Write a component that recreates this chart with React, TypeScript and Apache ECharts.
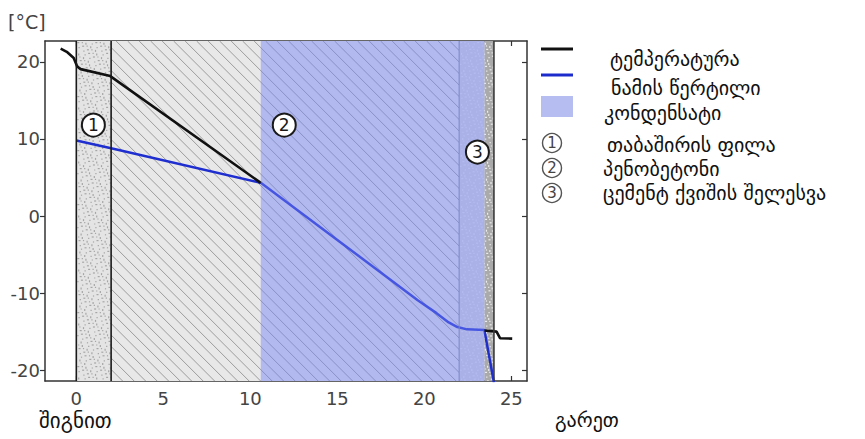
import React, { useEffect, useRef } from 'react';
import * as echarts from 'echarts';

const xTicks = [0, 5, 10, 15, 20, 25];
const yTicks = [-20, -10, 0, 10, 20];
const xMin = -1.8;
const xMax = 25.9;
const yMin = -21.4;
const yMax = 22.7;

// wall layers [from, to] in cm
const layerGypsum = [0, 2];
const layerFoam = [2, 22];
const layerPlaster = [22, 24];
const condensateZone = [10.6, 23.45];

// temperature (inside part + outside part)
const tempX = [-0.9, -0.55, -0.15, 0.05, 0.25, 1.95, 10.6];
const tempY = [21.7, 21.3, 20.5, 19.4, 19.05, 18.15, 4.3];
const tempOutX = [23.45, 24.15, 24.35, 25.05];
const tempOutY = [-14.85, -15.0, -15.85, -15.9];

// dew point
const dewX = [0, 2, 10.6, 15, 19.6, 20.7, 21.4, 21.9, 22.45, 23.45, 24.0];
const dewY = [9.8, 8.8, 4.3, -3.1, -10.9, -12.6, -13.8, -14.4, -14.7, -14.8, -21.6];

// layer markers inside the plot
const markerLabels = ['1', '2', '3'];
const markerX = [0.98, 11.95, 23.05];
const markerY = [11.8, 11.8, 8.3];

const legendNames = [
  'ტემპერატურა',
  'ნამის წერტილი',
  'კონდენსატი',
  'თაბაშირის ფილა',
  'პენობეტონი',
  'ცემენტ ქვიშის შელესვა',
];
const insideLabel = 'შიგნით';
const outsideLabel = 'გარეთ';
const unitLabel = '[°C]';

const FONT = 'DejaVu Sans';

function speckle(L: number, T: number, R: number, B: number, color: string, step: number) {
  const out: any[] = [];
  let row = 0;
  for (let y = T + 1; y < B - 1; y += step) {
    let col = 0;
    const off = (row % 3) * (step / 3);
    for (let x = L + 1 + off; x < R - 1; x += step) {
      const k = (row * 7 + col * 3) % 5;
      if (k !== 4) {
        const w = k === 0 ? 2 : 1.2;
        const h = k === 1 ? 2 : 1.2;
        out.push({
          type: 'rect',
          shape: { x: x + (k % 2) * 0.8, y: y + (k % 3) * 0.7, width: w, height: h },
          style: { fill: color },
          silent: true,
        });
      }
      col++;
    }
    row++;
  }
  return out;
}

function hatch(L: number, T: number, R: number, B: number, color: string, step: number) {
  const out: any[] = [];
  for (let c = L - B; c <= R - T; c += step) {
    const y0 = Math.max(T, L - c);
    const y1 = Math.min(B, R - c);
    if (y1 <= y0) continue;
    out.push({
      type: 'line',
      shape: { x1: y0 + c, y1: y0, x2: y1 + c, y2: y1 },
      style: { stroke: color, lineWidth: 1 },
      silent: true,
    });
  }
  return out;
}

export default function App() {
  const ref = useRef<HTMLDivElement>(null);

  useEffect(() => {
    if (!ref.current) return;
    const chart = echarts.init(ref.current, undefined, { renderer: 'svg' });

    const layerData = [
      [layerGypsum[0], layerGypsum[1], 0],
      [layerFoam[0], layerFoam[1], 1],
      [layerPlaster[0], layerPlaster[1], 2],
    ];

    const axisLineStyle = { color: '#333', width: 1.5 };
    const tickStyle = { color: '#333', width: 1.2 };

    const option: any = {
      animation: false,
      backgroundColor: '#fff',
      grid: { left: 45, top: 41, right: 338, bottom: 58, containLabel: false },
      xAxis: [
        {
          type: 'value',
          min: xMin,
          max: xMax,
          position: 'bottom',
          axisLine: { show: true, onZero: false, lineStyle: axisLineStyle },
          axisTick: { show: true, inside: true, length: 5, customValues: xTicks, lineStyle: tickStyle },
          axisLabel: { show: true, customValues: xTicks, fontSize: 18, color: '#444', margin: 8, fontFamily: FONT },
          splitLine: { show: false },
        },
        {
          type: 'value',
          min: xMin,
          max: xMax,
          position: 'top',
          axisLine: { show: true, onZero: false, lineStyle: axisLineStyle },
          axisTick: { show: true, inside: true, length: 5, customValues: xTicks, lineStyle: tickStyle },
          axisLabel: { show: false },
          splitLine: { show: false },
        },
      ],
      yAxis: [
        {
          type: 'value',
          min: yMin,
          max: yMax,
          position: 'left',
          axisLine: { show: true, onZero: false, lineStyle: axisLineStyle },
          axisTick: { show: true, inside: false, length: 5, customValues: yTicks, lineStyle: tickStyle },
          axisLabel: { show: true, customValues: yTicks, fontSize: 18, color: '#444', margin: 5, fontFamily: FONT },
          splitLine: { show: false },
        },
        {
          type: 'value',
          min: yMin,
          max: yMax,
          position: 'right',
          axisLine: { show: true, onZero: false, lineStyle: axisLineStyle },
          axisTick: { show: true, inside: true, length: 5, customValues: yTicks, lineStyle: tickStyle },
          axisLabel: { show: false },
          splitLine: { show: false },
        },
      ],
      series: [
        {
          type: 'custom',
          name: 'layers',
          z: 1,
          silent: true,
          clip: true,
          data: layerData,
          renderItem: (params: any, api: any) => {
            const cs = params.coordSys;
            const x0 = api.coord([api.value(0), 0])[0];
            const x1 = api.coord([api.value(1), 0])[0];
            const kind = api.value(2);
            const T = cs.y;
            const B = cs.y + cs.height;
            const children: any[] = [];
            if (kind === 0) {
              children.push({ type: 'rect', shape: { x: x0, y: T, width: x1 - x0, height: B - T }, style: { fill: '#e4e4e4' } });
              children.push(...speckle(x0, T, x1, B, '#a6a6a6', 3.6));
            } else if (kind === 1) {
              children.push({ type: 'rect', shape: { x: x0, y: T, width: x1 - x0, height: B - T }, style: { fill: '#e8e8e8' } });
              children.push(...hatch(x0, T, x1, B, '#9c9c9c', 11.5));
            } else {
              const xc = api.coord([condensateZone[1], 0])[0];
              children.push({ type: 'rect', shape: { x: x0, y: T, width: xc - x0, height: B - T }, style: { fill: '#dadada' } });
              children.push({ type: 'rect', shape: { x: xc, y: T, width: x1 - xc, height: B - T }, style: { fill: '#aaaaaa' } });
              children.push(...speckle(x0, T, x1, B, '#ececec', 3.4));
            }
            return { type: 'group', children };
          },
        },
        {
          type: 'line',
          name: 'temperature',
          z: 3,
          showSymbol: false,
          symbol: 'none',
          data: tempX.map((x, i) => [x, tempY[i]]),
          lineStyle: { color: '#111', width: 2.6 },
        },
        {
          type: 'line',
          name: 'temperatureOut',
          z: 3,
          showSymbol: false,
          symbol: 'none',
          data: tempOutX.map((x, i) => [x, tempOutY[i]]),
          lineStyle: { color: '#111', width: 2.6 },
        },
        {
          type: 'line',
          name: 'dew',
          z: 2,
          showSymbol: false,
          symbol: 'none',
          clip: true,
          data: dewX.map((x, i) => [x, dewY[i]]),
          lineStyle: { color: '#1f2fcf', width: 2.5 },
        },
        {
          type: 'custom',
          name: 'condensate',
          z: 5,
          silent: true,
          data: [[condensateZone[0], condensateZone[1]]],
          renderItem: (params: any, api: any) => {
            const cs = params.coordSys;
            const x0 = api.coord([api.value(0), 0])[0];
            const x1 = api.coord([api.value(1), 0])[0];
            return {
              type: 'rect',
              shape: { x: x0, y: cs.y, width: x1 - x0, height: cs.height },
              style: { fill: 'rgba(116,132,247,0.47)' },
            };
          },
        },
        {
          type: 'custom',
          name: 'boundaries',
          z: 6,
          silent: true,
          data: [
            [layerGypsum[0], 0],
            [layerGypsum[1], 0],
            [layerPlaster[0], 1],
            [layerPlaster[1], 2],
          ],
          renderItem: (params: any, api: any) => {
            const cs = params.coordSys;
            const x = api.coord([api.value(0), 0])[0];
            const kind = api.value(1);
            const stroke = kind === 0 ? '#1a1a1a' : kind === 1 ? '#7c86c4' : '#3a3a3a';
            const w = kind === 1 ? 1 : 1.6;
            return {
              type: 'line',
              shape: { x1: x, y1: cs.y, x2: x, y2: cs.y + cs.height },
              style: { stroke, lineWidth: w },
            };
          },
        },
        {
          type: 'scatter',
          name: 'markers',
          z: 7,
          symbol: 'circle',
          symbolSize: 23,
          silent: true,
          data: markerX.map((x, i) => ({ value: [x, markerY[i]], name: markerLabels[i] })),
          itemStyle: { color: '#fff', borderColor: '#1a1a1a', borderWidth: 2, opacity: 1 },
          label: {
            show: true,
            position: 'inside',
            formatter: (p: any) => p.name,
            fontSize: 17,
            color: '#1a1a1a',
            fontFamily: FONT,
          },
        },
      ],
      graphic: [
        { type: 'text', left: 8, top: 12, style: { text: unitLabel, fontSize: 19, fill: '#444', fontFamily: FONT } },
        { type: 'text', left: 39, top: 410, style: { text: insideLabel, fontSize: 21, fill: '#111', fontFamily: FONT } },
        { type: 'text', left: 555, top: 410, style: { text: outsideLabel, fontSize: 20, fill: '#111', fontFamily: FONT } },
        // legend
        { type: 'line', shape: { x1: 541, y1: 49, x2: 573, y2: 49 }, style: { stroke: '#111', lineWidth: 3 } },
        { type: 'line', shape: { x1: 541, y1: 75, x2: 573, y2: 75 }, style: { stroke: '#1c2ccc', lineWidth: 3 } },
        { type: 'rect', shape: { x: 541, y: 96, width: 32, height: 21 }, style: { fill: '#b6bdf0' } },
        ...[143, 168, 193].map((cy, i) => ({
          type: 'group',
          children: [
            { type: 'circle', shape: { cx: 552, cy, r: 9.5 }, style: { fill: '#fff', stroke: '#555', lineWidth: 1.4 } },
            {
              type: 'text',
              x: 552,
              y: cy,
              style: { text: markerLabels[i], fontSize: 15, fill: '#444', fontFamily: FONT, align: 'center', verticalAlign: 'middle' },
            },
          ],
        })),
        ...[
          [610, 59],
          [611, 88],
          [604, 113],
          [607, 145],
          [603, 169],
          [603, 193],
        ].map((p, i) => ({
          type: 'text',
          x: p[0],
          y: p[1],
          style: { text: legendNames[i], fontSize: 20, fill: '#111', fontFamily: FONT, verticalAlign: 'middle' },
        })),
      ],
    };

    chart.setOption(option);
    return () => chart.dispose();
  }, []);

  return <div ref={ref} style={{ position: 'fixed', left: 0, top: 0, width: 865, height: 439 }} />;
}
